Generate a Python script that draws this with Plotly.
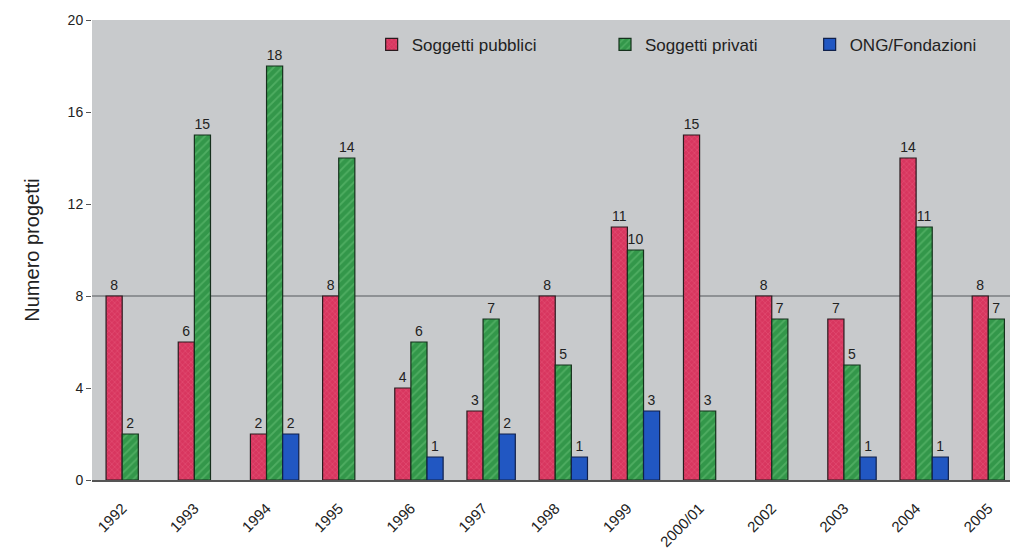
import plotly.graph_objects as go

categories = ["1992", "1993", "1994", "1995", "1996", "1997", "1998",
              "1999", "2000/01", "2002", "2003", "2004", "2005"]
pubblici = [8, 6, 2, 8, 4, 3, 8, 11, 15, 8, 7, 14, 8]
privati = [2, 15, 18, 14, 6, 7, 5, 10, 3, 7, 5, 11, 7]
ong = [0, 0, 2, 0, 1, 2, 1, 3, 0, 0, 1, 1, 0]
y_ticks = [0, 4, 8, 12, 16, 20]
reference_line = 8

FONT = "Liberation Sans, Arial, sans-serif"


def vals(v):
    return [x if x else None for x in v]


def labels(v):
    return [str(x) if x else "" for x in v]


fig = go.Figure()
fig.add_trace(go.Bar(
    name="Soggetti pubblici", x=categories, y=vals(pubblici),
    text=labels(pubblici), textposition="outside", legend="legend",
    marker=dict(color="#d8365f", line=dict(color="#2a1a1e", width=1.2),
                pattern=dict(shape="x", fgcolor="#f07090", bgcolor="#d8365f",
                             size=4, solidity=0.25)),
))
fig.add_trace(go.Bar(
    name="Soggetti privati", x=categories, y=vals(privati),
    text=labels(privati), textposition="outside", legend="legend2",
    marker=dict(color="#33974a", line=dict(color="#15301c", width=1.2),
                pattern=dict(shape="/", fgcolor="#6cc47a", bgcolor="#33974a",
                             size=6, solidity=0.3)),
))
fig.add_trace(go.Bar(
    name="ONG/Fondazioni", x=categories, y=vals(ong),
    text=labels(ong), textposition="outside", legend="legend3",
    marker=dict(color="#2157c2", line=dict(color="#10204a", width=1.2)),
))

fig.update_traces(textfont=dict(family=FONT, size=14, color="#222222"),
                  cliponaxis=False)

fig.add_shape(type="line", xref="paper", x0=0, x1=1, yref="y",
              y0=reference_line, y1=reference_line,
              line=dict(color="#55595c", width=1), layer="below")

legend_common = dict(orientation="h", y=0.946, xanchor="left",
                     yanchor="middle", bgcolor="rgba(0,0,0,0)",
                     font=dict(family=FONT, size=17, color="#222222"),
                     itemwidth=30)

fig.update_layout(
    width=1010, height=544,
    margin=dict(l=84, r=0, t=12, b=72),
    paper_bgcolor="white",
    plot_bgcolor="#c8cacc",
    barmode="group",
    bargap=0.33,
    bargroupgap=0,
    font=dict(family=FONT, size=14, color="#222222"),
    showlegend=True,
    legend=dict(x=0.302, **legend_common),
    legend2=dict(x=0.554, **legend_common),
    legend3=dict(x=0.775, **legend_common),
    xaxis=dict(type="category", range=[-0.53, 12.3],
               tickangle=-45, showgrid=False,
               showline=True, linecolor="#555555", linewidth=1.5,
               ticks="", ticklabelstandoff=12, ticklabelshift=-8,
               tickfont=dict(family=FONT, size=15, color="#222222")),
    yaxis=dict(range=[0, 20], tickvals=y_ticks, showgrid=False,
               zeroline=False, showline=False,
               ticks="outside", ticklen=5, tickcolor="#555555",
               tickfont=dict(family=FONT, size=14, color="#222222"),
               title=dict(text="Numero progetti",
                          font=dict(family=FONT, size=20, color="#222222"),
                          standoff=22)),
)

fig.write_html("out.html")
